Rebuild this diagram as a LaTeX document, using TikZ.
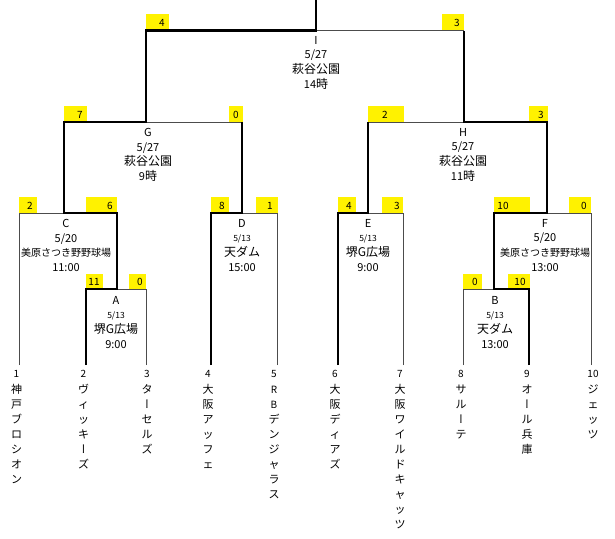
\documentclass[tikz,border=0pt]{standalone}
\usepackage{fontspec}
\setmainfont{Noto Sans CJK JP}
\newfontfamily\vfont[RawFeature=+vert]{Noto Sans CJK JP}
\newcommand\cjkl{\fontsize{12}{14.7}\selectfont}
\newcommand\cjkm{\fontsize{10}{14.7}\selectfont}
\newcommand\smalld{\fontsize{8.5}{14.7}\selectfont}
\newcommand\numf{\fontsize{10}{15}\selectfont}
\newcommand\cho{{\vfont ー}}
\tikzset{
  thinln/.style={line width=0.9pt, black!70},
  winln/.style={line width=2.7pt, black, line join=miter},
  ybox/.style={fill=yellow, draw=none},
  score/.style={font=\fontsize{10}{12}\selectfont, inner sep=0pt},
  match/.style={align=center, anchor=north, inner sep=0pt, font=\fontsize{11}{14.7}\selectfont},
  team/.style={align=center, anchor=north, inner sep=0pt, font=\fontsize{11}{15}\selectfont},
}
\begin{document}
\begin{tikzpicture}[x=1pt,y=-1pt]
\useasboundingbox (0,0) rectangle (615,538);
% coordinates
\coordinate (top) at (316,0);
\coordinate (I) at (316,30.5);
\coordinate (G) at (146,122);
\coordinate (H) at (464,122);
\coordinate (C) at (64,213);
\coordinate (D) at (242,213);
\coordinate (E) at (368,213);
\coordinate (F) at (547,213);
\coordinate (A) at (117,289);
\coordinate (B) at (494,289);
\coordinate (L1) at (19,365);
\coordinate (L2) at (86,365);
\coordinate (L3) at (146,365);
\coordinate (L4) at (211,365);
\coordinate (L5) at (277,365);
\coordinate (L6) at (338,365);
\coordinate (L7) at (403,365);
\coordinate (L8) at (463,365);
\coordinate (L9) at (529,365);
\coordinate (L10) at (591,365);
% yellow score boxes
\fill[ybox] (146,14) rectangle (169,30.5);
\fill[ybox] (442,14) rectangle (464,30.5);
\fill[ybox] (64,106) rectangle (87,122);
\fill[ybox] (229,106) rectangle (243,122);
\fill[ybox] (368,106) rectangle (404,122);
\fill[ybox] (529,106) rectangle (548,122);
\fill[ybox] (19,197) rectangle (37,213);
\fill[ybox] (86,197) rectangle (117,213);
\fill[ybox] (211,197) rectangle (229,213);
\fill[ybox] (256,197) rectangle (278,213);
\fill[ybox] (338,197) rectangle (356,213);
\fill[ybox] (382,197) rectangle (403,213);
\fill[ybox] (494,197) rectangle (530,213);
\fill[ybox] (569,197) rectangle (591,213);
\fill[ybox] (86,274) rectangle (103,289);
\fill[ybox] (129,274) rectangle (146,289);
\fill[ybox] (463,274) rectangle (482,289);
\fill[ybox] (508,274) rectangle (530,289);
% scores
\node[score] (s1) at (162,22.5) {4};
\node[score] (s2) at (457,22.5) {3};
\node[score] (s3) at (80,114.5) {7};
\node[score] (s4) at (236,114.5) {0};
\node[score] (s5) at (385,114.5) {2};
\node[score] (s6) at (541,114.5) {3};
\node[score] (s7) at (30,205.5) {2};
\node[score] (s8) at (110,205.5) {6};
\node[score] (s9) at (222,205.5) {8};
\node[score] (s10) at (270,205.5) {1};
\node[score] (s11) at (349,205.5) {4};
\node[score] (s12) at (397,205.5) {3};
\node[score] (s13) at (503,205.5) {10};
\node[score] (s14) at (584,205.5) {0};
\node[score] (s15) at (94,282) {11};
\node[score] (s16) at (140,282) {0};
\node[score] (s17) at (475,282) {0};
\node[score] (s18) at (520,282) {10};
% thin lines (losers)
\draw[thinln] (L1) |- (C);
\draw[thinln] (L3) |- (A);
\draw[thinln] (L5) |- (D);
\draw[thinln] (G) -- (D |- G);
\draw[thinln] (I) -- (H |- I);
\draw[thinln] (H) -- (E |- H);
\draw[thinln] (L7) |- (E);
\draw[thinln] (L8) |- (B);
\draw[thinln] (L10) |- (F);
% thick lines (winners)
\draw[winln] (L2) |- (A) |- (C) |- (G) |- (I) -- (top);
\draw[winln] (L4) |- (D) -- (D |- G);
\draw[winln] (L6) |- (E) -- (E |- H);
\draw[winln] (L9) |- (B) |- (F) |- (H) -- (H |- I);
% match labels
\node[match] (tI) at (316,36) {I\\5/27\\{\cjkl 萩谷公園}\\14{\cjkl 時}};
\node[match] (tG) at (148,128) {G\\5/27\\{\cjkl 萩谷公園}\\9{\cjkl 時}};
\node[match] (tH) at (463,128) {H\\5/27\\{\cjkl 萩谷公園}\\11{\cjkl 時}};
\node[match] (tC) at (66,219) {C\\5/20\\{\cjkm 美原さつき野野球場}\\11:00};
\node[match] (tD) at (242,219) {D\\{\smalld 5/13}\\{\cjkl 天ダム}\\15:00};
\node[match] (tE) at (368,219) {E\\{\smalld 5/13}\\{\cjkl 堺G広場}\\9:00};
\node[match] (tF) at (545,219) {F\\5/20\\{\cjkm 美原さつき野野球場}\\13:00};
\node[match] (tA) at (116,296) {A\\{\smalld 5/13}\\{\cjkl 堺G広場}\\9:00};
\node[match] (tB) at (495,296) {B\\{\smalld 5/13}\\{\cjkl 天ダム}\\13:00};
% team labels
\node[team] (n1) at (16.5,370) {{\numf 1}\\[1.5pt]神\\戸\\ブ\\ロ\\シ\\オ\\ン};
\node[team] (n2) at (83.5,370) {{\numf 2}\\[1.5pt]ヴ\\ィ\\ッ\\キ\\\cho\\ズ};
\node[team] (n3) at (147,370) {{\numf 3}\\[1.5pt]タ\\\cho\\セ\\ル\\ズ};
\node[team] (n4) at (208,370) {{\numf 4}\\[1.5pt]大\\阪\\ア\\ッ\\フ\\ェ};
\node[team] (n5) at (274,370) {{\numf 5}\\[1.5pt]{\numf R}\\{\numf B}\\デ\\ン\\ジ\\ャ\\ラ\\ス};
\node[team] (n6) at (335,370) {{\numf 6}\\[1.5pt]大\\阪\\デ\\ィ\\ア\\ズ};
\node[team] (n7) at (400,370) {{\numf 7}\\[1.5pt]大\\阪\\ワ\\イ\\ル\\ド\\キ\\ャ\\ッ\\ツ};
\node[team] (n8) at (461,370) {{\numf 8}\\[1.5pt]サ\\ル\\\cho\\テ};
\node[team] (n9) at (527,370) {{\numf 9}\\[1.5pt]オ\\\cho\\ル\\兵\\庫};
\node[team] (n10) at (593,370) {{\numf 10}\\[1.5pt]ジ\\ェ\\ッ\\ツ};
\end{tikzpicture}
\end{document}
